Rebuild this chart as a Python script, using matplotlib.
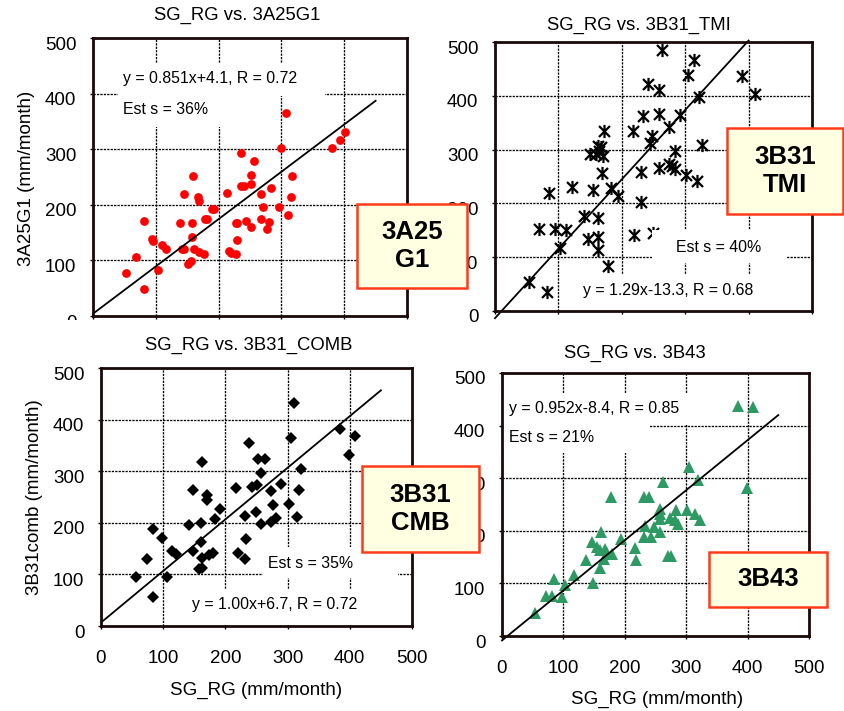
import matplotlib
matplotlib.use("Agg")
import matplotlib.pyplot as plt
from matplotlib.patches import Rectangle
from matplotlib.path import Path
from matplotlib.transforms import ScaledTranslation
import numpy as np

plt.rcParams['font.family'] = ['Liberation Sans', 'DejaVu Sans']

# ---------------- data ----------------
ticks = [0, 100, 200, 300, 400, 500]

a25_x = [53, 81, 81, 68, 94, 95, 104, 110, 116, 138, 145, 141, 145, 160, 157, 157, 161, 167, 168,
         152, 156, 169, 177, 179, 182, 189, 192, 213, 216, 220, 227, 230, 228, 229, 236, 236, 240,
         244, 251, 252, 252, 257, 267, 267, 271, 277, 280, 283, 296, 299, 308, 311, 315, 317, 381,
         393, 402]
a25_y = [78, 49, 171, 107, 139, 135, 82, 127, 121, 168, 219, 121, 121, 252, 167, 142, 121, 214, 207,
         93, 99, 115, 111, 175, 175, 193, 193, 222, 117, 114, 168, 168, 111, 136, 294, 233, 234,
         171, 160, 254, 237, 278, 219, 175, 196, 157, 169, 230, 196, 302, 366, 181, 214, 252, 302,
         317, 331]

tmi_x = [264, 314, 305, 389, 410, 241, 258, 321, 234, 258, 292, 275, 218, 172, 247, 244, 326, 284,
         162, 167, 150, 159, 170, 164, 168, 230, 258, 275, 279, 284, 302, 319, 183, 194, 121, 85,
         155, 231, 140, 162, 69, 94, 112, 219, 146, 163, 103, 163, 178, 53, 82, 249]
tmi_y = [485, 467, 439, 436, 404, 422, 411, 397, 363, 366, 364, 342, 334, 334, 325, 313, 308, 297,
         307, 304, 291, 291, 288, 297, 257, 258, 265, 274, 269, 264, 252, 241, 228, 213, 231, 220,
         224, 202, 176, 172, 153, 153, 150, 142, 133, 138, 117, 114, 83, 53, 36, 145]

comb_x = [311, 385, 409, 399, 305, 322, 319, 315, 302, 238, 253, 263, 258, 251, 243, 217, 289, 273,
          277, 282, 273, 258, 250, 231, 233, 220, 231, 162, 148, 170, 170, 192, 184, 141, 160, 161,
          148, 162, 173, 180, 157, 163, 114, 120, 98, 84, 74, 56, 106, 83]
comb_y = [432, 382, 369, 331, 365, 305, 264, 211, 237, 355, 324, 324, 296, 274, 269, 268, 275, 262,
          234, 209, 201, 198, 220, 213, 169, 141, 130, 318, 264, 253, 245, 227, 208, 196, 200, 162,
          146, 132, 138, 141, 110, 112, 146, 140, 170, 188, 130, 94, 94, 57]

b43_x = [385, 409, 399, 304, 319, 262, 178, 231, 239, 257, 258, 257, 284, 301, 315, 323, 274, 282,
         287, 233, 247, 257, 231, 242, 216, 218, 271, 275, 194, 162, 147, 155, 160, 168, 171, 179,
         166, 160, 137, 118, 84, 103, 148, 71, 81, 97, 53]
b43_y = [438, 436, 281, 321, 296, 292, 265, 264, 264, 241, 232, 223, 240, 240, 232, 221, 224, 220,
         212, 209, 207, 198, 188, 189, 167, 145, 152, 152, 184, 198, 179, 169, 163, 166, 157, 155,
         147, 130, 144, 116, 109, 97, 100, 76, 76, 75, 43]

fits = {"a25": (0.851, 4.1, 0, 450), "tmi": (1.29, -13.3, 0, 400),
        "comb": (1.00, 6.7, 0, 450), "b43": (0.952, -8.4, 0, 450)}

# ---------------- layout helpers ----------------
W, H = 845, 711
fig = plt.figure(figsize=(W / 100, H / 100), dpi=100)
fig.patch.set_facecolor('white')


def fx(x):
    return x / W


def fy(y):
    return 1 - y / H


def make_ax(l, t, r, b, z, xlabels=True):
    ax = fig.add_axes([fx(l), fy(b), (r - l) / W, (b - t) / H])
    ax.set_zorder(z)
    ax.set_xlim(0, 500)
    ax.set_ylim(0, 500)
    ax.set_xticks(ticks)
    ax.set_yticks(ticks)
    ax.set_axisbelow(True)
    ax.grid(True, color='black', linestyle=(0, (1.7, 0.9)), linewidth=0.95)
    for s in ax.spines.values():
        s.set_linewidth(2)
        s.set_color('#1a0a0a')
        s.set_zorder(6)
    ax.tick_params(axis='both', length=2.5, width=1, labelsize=13.5, direction='out')
    ax.tick_params(axis='y', pad=9.5)
    ax.tick_params(axis='x', pad=15)
    if not xlabels:
        ax.set_xticklabels([])
    shift = ScaledTranslation(0, -5 / 100, fig.dpi_scale_trans)
    for lab in ax.get_yticklabels():
        lab.set_transform(lab.get_transform() + shift)
    return ax


def white_rect(ax, x0, y0, x1, y1):
    r = Rectangle((fx(x0), fy(y1)), (x1 - x0) / W, (y1 - y0) / H, transform=fig.transFigure,
                  facecolor='white', edgecolor='none', zorder=3)
    ax.add_artist(r)


def ptext(ax, x, y, s):
    ax.text(fx(x), fy(y), s, transform=fig.transFigure, fontsize=11.4, ha='left', va='center',
            zorder=4)


def fit_line(ax, key):
    m, c, x0, x1 = fits[key]
    xs = np.array([x0, x1])
    ax.plot(xs, m * xs + c, color='black', linewidth=1.3, zorder=2.5, clip_on=False)


# asterisk marker: X with a vertical bar
ast = Path([(-1, -1), (1, 1), (-1, 1), (1, -1), (0, -1.2), (0, 1.2)],
           [Path.MOVETO, Path.LINETO, Path.MOVETO, Path.LINETO, Path.MOVETO, Path.LINETO])

# ---------------- panel 1 ----------------
ax1 = make_ax(93, 38, 407, 316, 0, xlabels=False)
ax1.plot(a25_x, a25_y, 'o', color='#ff0000', markersize=6.3, markeredgewidth=0, zorder=2)
fit_line(ax1, "a25")
white_rect(ax1, 118, 63, 325, 96)
white_rect(ax1, 118, 96, 240, 127)
ptext(ax1, 123, 78, "y = 0.851x+4.1, R = 0.72")
ptext(ax1, 123, 109, "Est s = 36%")

# ---------------- panel 2 ----------------
ax2 = make_ax(495, 42, 812, 311, 0, xlabels=False)
ax2.plot(tmi_x, tmi_y, linestyle='none', marker=ast, color='black', markersize=9.5,
         markeredgewidth=1.6, zorder=2)
fit_line(ax2, "tmi")
white_rect(ax2, 652, 230, 787, 263)
white_rect(ax2, 575, 275, 805, 311)
ptext(ax2, 676, 248, "Est s = 40%")
ptext(ax2, 583, 290, "y = 1.29x-13.3, R = 0.68")

# cover strip where the lower panels overlap the upper ones
fig.add_artist(Rectangle((0, 0), fx(440), fy(320), transform=fig.transFigure,
                         facecolor='white', edgecolor='none', zorder=1))
fig.add_artist(Rectangle((fx(440), 0), fx(405), fy(325), transform=fig.transFigure,
                         facecolor='white', edgecolor='none', zorder=1))

# ---------------- panel 3 ----------------
ax3 = make_ax(101, 368, 412, 626, 2)
ax3.plot(comb_x, comb_y, 'D', color='black', markersize=6.5, markeredgewidth=0, zorder=2)
fit_line(ax3, "comb")
white_rect(ax3, 263, 547, 398, 578)
white_rect(ax3, 186, 589, 400, 625)
ptext(ax3, 268, 564, "Est s = 35%")
ptext(ax3, 192, 604, "y = 1.00x+6.7, R = 0.72")

# ---------------- panel 4 ----------------
ax4 = make_ax(502, 373, 809, 636, 2)
ax4.plot(b43_x, b43_y, '^', color='#2e9a63', markersize=8, markeredgewidth=0, zorder=2)
fit_line(ax4, "b43")
white_rect(ax4, 503, 393, 710, 425)
white_rect(ax4, 503, 425, 650, 453)
ptext(ax4, 509, 408, "y = 0.952x-8.4, R = 0.85")
ptext(ax4, 509, 438, "Est s = 21%")

# ---------------- titles and axis labels ----------------
for (x, y, s) in [(237, 15, "SG_RG vs. 3A25G1"), (639, 25, "SG_RG vs. 3B31_TMI"),
                  (249, 345, "SG_RG vs. 3B31_COMB"), (635, 353, "SG_RG vs. 3B43")]:
    fig.text(fx(x), fy(y), s, fontsize=13.3, ha='center', va='center', zorder=5)

fig.text(fx(256), fy(690), "SG_RG (mm/month)", fontsize=13.5, ha='center', va='center', zorder=5)
fig.text(fx(657), fy(699), "SG_RG (mm/month)", fontsize=13.5, ha='center', va='center', zorder=5)
fig.text(fx(27), fy(178), "3A25G1 (mm/month)", fontsize=13.5, ha='center', va='center',
         rotation=90, zorder=5)
fig.text(fx(35), fy(497), "3B31comb (mm/month)", fontsize=13.5, ha='center', va='center',
         rotation=90, zorder=5)

# ---------------- product labels ----------------
boxes = [(357, 204, 467, 288, "3A25\nG1"), (727, 128, 843, 214, "3B31\nTMI"),
         (362, 466, 479, 552, "3B31\nCMB"), (709, 552, 827, 607, "3B43")]
for (l, t, r, b, s) in boxes:
    fig.add_artist(Rectangle((fx(l), fy(b)), (r - l) / W, (b - t) / H, transform=fig.transFigure,
                             facecolor='#ffffe1', edgecolor='#ff3a1a', linewidth=1.8, zorder=7))
    fig.text(fx((l + r) / 2), fy((t + b) / 2), s, fontsize=18.5, fontweight='bold', ha='center',
             va='center', linespacing=1.25, zorder=8)

fig.savefig("out.png", dpi=100, facecolor='white')
